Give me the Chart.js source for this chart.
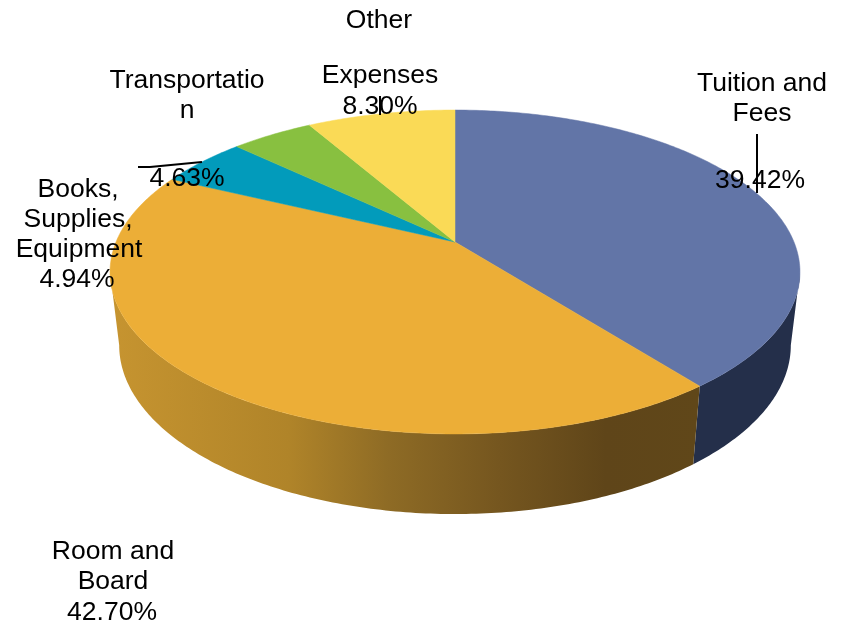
<!DOCTYPE html>
<html>
<head>
<meta charset="utf-8">
<title>College expenses</title>
<script src="https://cdn.jsdelivr.net/npm/chart.js@4/dist/chart.umd.min.js"></script>
<style>
  html, body { margin: 0; padding: 0; background: #fff; }
  canvas { display: block; }
</style>
</head>
<body>
<canvas id="expenseChart" width="846" height="622"></canvas>
<script>
const categories = ["Tuition and Fees", "Room and Board", "Books, Supplies, Equipment", "Transportation", "Other Expenses"];
const shares = [39.42, 42.70, 4.94, 4.63, 8.30];
const topColors = ["#6275A7", "#ECAE37", "#029BBB", "#88C040", "#FADA56"];
const wrappedNames = [["Tuition and", "Fees"], ["Room and", "Board"], ["Books,", "Supplies,", "Equipment"], ["Transportatio", "n"], ["Other", "", "Expenses"]];

// where each label's lines sit (centre x, then one baseline per line, the last is the percent)
const labelSpots = [
  { x: [762, 762, 760], y: [91, 121, 188] },
  { x: [113, 113, 112], y: [559, 589, 620] },
  { x: [78, 78, 79, 77], y: [197, 227, 257, 287] },
  { x: [187, 187, 187], y: [88, 118, 186] },
  { x: [379, 380, 380, 380], y: [28, 56, 83, 114] }
];
const leaders = [
  [757, 134, 757, 193],
  [380, 96, 380, 115],
  [138, 167, 150, 167],
  [150, 167, 202, 162]
];

// the pie is tilted in perspective, so the centre is not the middle of the rim
const topRim = { ax: 455, ay: 242, A: 339, B: 156.4, k: 0.1852 };
const bottomRim = { ax: 455, ay: 314, A: 330, B: 163, k: 0.1852 };

function rimPoint(rim, angle) {
  const u = Math.cos(angle), v = Math.sin(angle);
  const d = 1 - rim.k * v;
  return [rim.ax + rim.A * u / d, rim.ay + rim.B * v / d];
}

function traceRim(ctx, rim, from, to) {
  const steps = Math.max(2, Math.ceil(Math.abs(to - from) * 80));
  for (let i = 0; i <= steps; i++) {
    const p = rimPoint(rim, from + (to - from) * i / steps);
    ctx.lineTo(p[0], p[1]);
  }
}

function wallFill(ctx, index) {
  if (index === 0) return "#242F4A";
  const g = ctx.createLinearGradient(112, 0, 700, 0);
  g.addColorStop(0, "#C69430");
  g.addColorStop(0.3, "#B08429");
  g.addColorStop(0.47, "#8E6B25");
  g.addColorStop(0.66, "#75561F");
  g.addColorStop(0.84, "#5F4519");
  g.addColorStop(1, "#604719");
  return g;
}

const tiltedPie = {
  id: "tiltedPie",
  beforeDatasetDraw(chart) {
    const ctx = chart.ctx;
    const arcs = chart.getDatasetMeta(0).data;
    const frontFrom = Math.asin(topRim.k);
    const frontTo = Math.PI - frontFrom;

    arcs.forEach((arc, i) => {
      const from = Math.max(arc.startAngle, frontFrom);
      const to = Math.min(arc.endAngle, frontTo);
      if (to <= from) return;
      ctx.beginPath();
      traceRim(ctx, topRim, from, to);
      traceRim(ctx, bottomRim, to, from);
      ctx.closePath();
      ctx.fillStyle = wallFill(ctx, i);
      ctx.fill();
    });

    arcs.forEach((arc, i) => {
      ctx.beginPath();
      ctx.moveTo(topRim.ax, topRim.ay);
      traceRim(ctx, topRim, arc.startAngle, arc.endAngle);
      ctx.closePath();
      ctx.fillStyle = topColors[i];
      ctx.strokeStyle = topColors[i];
      ctx.lineWidth = 0.5;
      ctx.fill();
      ctx.stroke();
    });
    return false;
  },
  afterDraw(chart) {
    const ctx = chart.ctx;
    ctx.save();
    ctx.fillStyle = "#000";
    ctx.font = '26.5px "Liberation Sans", Arial, sans-serif';
    ctx.textAlign = "center";
    ctx.textBaseline = "alphabetic";
    categories.forEach((name, i) => {
      const lines = wrappedNames[i].concat(shares[i].toFixed(2) + "%");
      const spot = labelSpots[i];
      lines.forEach((line, n) => ctx.fillText(line, spot.x[n], spot.y[n]));
    });
    ctx.strokeStyle = "#000";
    ctx.lineWidth = 2;
    leaders.forEach(l => {
      ctx.beginPath();
      ctx.moveTo(l[0], l[1]);
      ctx.lineTo(l[2], l[3]);
      ctx.stroke();
    });
    ctx.restore();
  }
};

new Chart(document.getElementById("expenseChart"), {
  type: "pie",
  data: {
    labels: categories,
    datasets: [{ data: shares, backgroundColor: topColors, borderWidth: 0 }]
  },
  options: {
    responsive: false,
    animation: false,
    plugins: { legend: { display: false }, tooltip: { enabled: false } }
  },
  plugins: [tiltedPie]
});
</script>
</body>
</html>
